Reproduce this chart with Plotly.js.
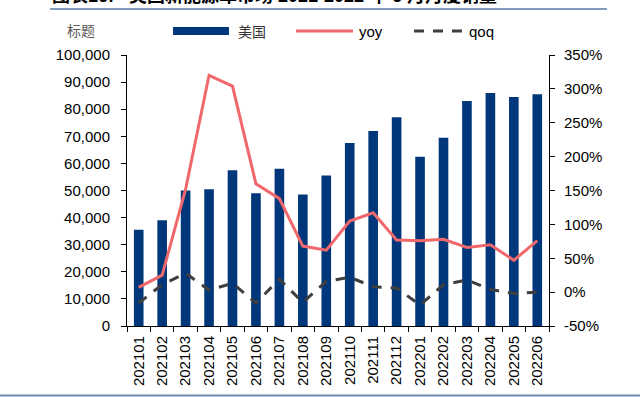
<!DOCTYPE html>
<html>
<head>
<meta charset="utf-8">
<script src="https://cdn.plot.ly/plotly-3.0.1.min.js"></script>
<style>html,body{margin:0;padding:0;background:#fff;}#chart{width:640px;height:397px;}</style>
</head>
<body>
<div id="chart"></div>
<script>
const months = ["202101","202102","202103","202104","202105","202106","202107","202108","202109","202110","202111","202112","202201","202202","202203","202204","202205","202206"];
const sales = [35500,39000,50000,50500,57500,49000,58000,48500,55500,67500,72000,77000,62500,69500,83000,86000,84500,85500];
const yoy = [0.07,0.25,1.52,3.20,3.04,1.60,1.38,0.68,0.62,1.05,1.17,0.77,0.76,0.78,0.66,0.70,0.47,0.76];
const qoq = [-0.16,0.11,0.28,0.03,0.13,-0.16,0.19,-0.15,0.16,0.22,0.08,0.06,-0.19,0.11,0.18,0.04,-0.02,0.00];
const pctTickVals = [-0.5,0,0.5,1,1.5,2,2.5,3,3.5];
const pctTickText = ["-50%","0%","50%","100%","150%","200%","250%","300%","350%"];
const seriesNames = ["美国","yoy","qoq"];
const titleText = "图表16:\u00A0\u00A0\u00A0美国新能源车市场\u00A02021-2022\u00A0年\u00A06\u00A0月月度销量";
const unitLabel = "标题";

const barColor = "#00367A", yoyColor = "#F0686C", qoqColor = "#3F3F3F";
const font = "Liberation Sans, Arial, sans-serif";
const cjk = "Noto Sans CJK SC, sans-serif";

const traces = [
  {type:"bar", x:months, y:sales, name:seriesNames[0], marker:{color:barColor}, showlegend:false},
  {type:"scatter", mode:"lines", x:months, y:yoy, name:seriesNames[1], yaxis:"y2", line:{color:yoyColor, width:3}, showlegend:false},
  {type:"scatter", mode:"lines", x:months, y:qoq, name:seriesNames[2], yaxis:"y2", line:{color:qoqColor, width:3, dash:"10px,9px"}, showlegend:false}
];

const L=127, R=549, T=55, B=326;
const px = v => (v-L)/(R-L);
const py = v => (B-v)/(B-T);

const layout = {
  width:640, height:397,
  margin:{l:L, r:640-R, t:T, b:397-B},
  paper_bgcolor:"#fff", plot_bgcolor:"#fff",
  bargap:0.59,
  showlegend:false,
  font:{family:font, size:15, color:"#000"},
  xaxis:{type:"category", tickangle:-90, ticks:"outside", tickson:"boundaries", ticklen:5, tickcolor:"#000",
         ticklabelstandoff:3,
         showline:true, linecolor:"#000", linewidth:1, showgrid:false, tickfont:{size:15, family:font}},
  yaxis:{range:[0,100000], dtick:10000, tickformat:",d", ticks:"outside", ticklen:5, tickcolor:"#000",
         ticklabelstandoff:8,
         showline:true, linecolor:"#000", linewidth:1, showgrid:false, zeroline:false, tickfont:{size:15, family:font}},
  yaxis2:{range:[-0.5,3.5], tickvals:pctTickVals, ticktext:pctTickText, overlaying:"y", side:"right", ticks:"outside", ticklen:5, tickcolor:"#000",
          ticklabelstandoff:6,
          showline:true, linecolor:"#000", linewidth:1, showgrid:false, zeroline:false, tickfont:{size:15, family:font}},
  shapes:[
    {type:"line", xref:"paper", yref:"paper", x0:px(50), x1:px(607), y0:py(9), y1:py(9), line:{color:"#5A7AAA", width:1.5}},
    {type:"line", xref:"paper", yref:"paper", x0:px(0), x1:px(640), y0:py(395.5), y1:py(395.5), line:{color:"#6F8BB5", width:2}},
    {type:"rect", xref:"paper", yref:"paper", x0:px(173), x1:px(229), y0:py(35), y1:py(27), fillcolor:barColor, line:{width:0}},
    {type:"line", xref:"paper", yref:"paper", x0:px(296), x1:px(353), y0:py(31), y1:py(31), line:{color:yoyColor, width:3}},
    {type:"line", xref:"paper", yref:"paper", x0:px(414), x1:px(467), y0:py(31), y1:py(31), line:{color:qoqColor, width:3, dash:"10px,9px"}}
  ],
  annotations:[
    {text:titleText, xref:"paper", yref:"paper", x:px(50), y:py(8.5), xanchor:"left", yanchor:"bottom", showarrow:false,
     font:{family:"Liberation Sans, Noto Sans CJK SC, sans-serif", size:18, color:"#000", weight:"bold"}},
    {text:unitLabel, xref:"paper", yref:"paper", x:px(65), y:py(30), xanchor:"left", yanchor:"middle", showarrow:false,
     font:{family:cjk, size:14, color:"#595959"}},
    {text:seriesNames[0], xref:"paper", yref:"paper", x:px(236), y:py(31), xanchor:"left", yanchor:"middle", showarrow:false,
     font:{family:cjk, size:14, color:"#333"}},
    {text:seriesNames[1], xref:"paper", yref:"paper", x:px(357), y:py(31), xanchor:"left", yanchor:"middle", showarrow:false,
     font:{family:font, size:15, color:"#000"}},
    {text:seriesNames[2], xref:"paper", yref:"paper", x:px(467), y:py(31), xanchor:"left", yanchor:"middle", showarrow:false,
     font:{family:font, size:15, color:"#000"}}
  ]
};

Plotly.newPlot("chart", traces, layout, {displayModeBar:false, staticPlot:true});
</script>
</body>
</html>
